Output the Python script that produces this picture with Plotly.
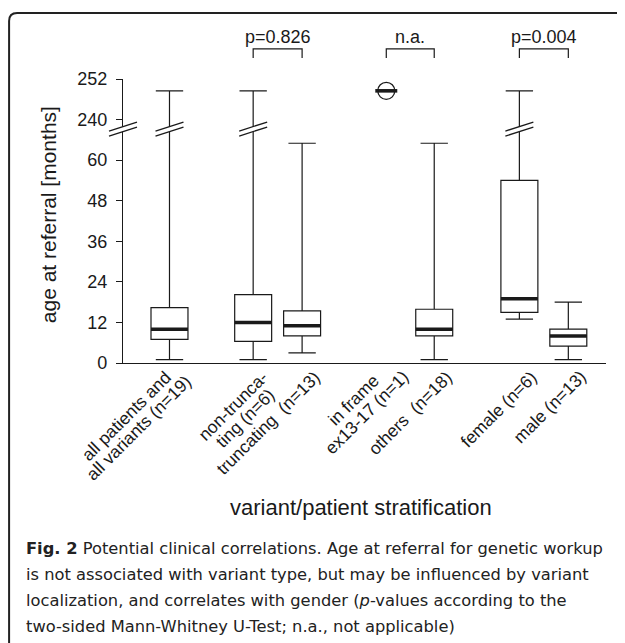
import math
import plotly.graph_objects as go

# ---------------- data ----------------
categories = [
    "all patients and<br>all variants (n=19)",
    "non-trunca-<br>ting (n=6)",
    "truncating\u00a0 (n=13)",
    "in frame<br>ex13-17 (n=1)",
    "others\u00a0 (n=18)",
    "female (n=6)",
    "male (n=13)",
]
lower_whisker = [1, 1, 3, 248.5, 1, 13, 1]
q1 = [7, 6.4, 8, 248.5, 8, 15, 5]
median = [10, 12, 11, 248.5, 10, 19, 8]
q3 = [16.4, 20.2, 15.4, 248.5, 15.9, 54, 10]
upper_whisker = [248.5, 248.5, 65, 248.5, 65, 248.5, 18]
group_n = [19, 6, 13, 1, 18, 6, 13]
comparisons = [(1, 2, "p=0.826"), (3, 4, "n.a."), (5, 6, "p=0.004")]
y_tick_values = [0, 12, 24, 36, 48, 60, 240, 252]

caption_lines = [
    "<b>Fig. 2</b> Potential clinical correlations. Age at referral for genetic workup",
    "is not associated with variant type, but may be influenced by variant",
    "localization, and correlates with gender (<i>p</i>-values according to the",
    "two-sided Mann-Whitney U-Test; n.a., not applicable)",
]

# ---------------- layout helpers ----------------
PAGE_W, PAGE_H = 625, 643
OX, OY = 8, 8                      # default body margin of the html page
W, H = PAGE_W - OX, PAGE_H - OY
positions = [1, 2.71, 3.71, 5.43, 6.41, 8.15, 9.15]
X_RANGE = [0.05, 9.92]
GAP_LO = 70
BREAK_SHIFT = 168  # 240 -> 72


def yt(v):
    """broken-axis transform (months -> axis units)"""
    return v if v <= GAP_LO else v - BREAK_SHIFT


# plot area in page pixels: x 123..606.4, y 79..362.7
L = 123 - OX
T = 79 - OY
R = W - (606.4 - OX)
B = H - (362.7 - OY)
PW = W - L - R
PH = H - T - B
Y_RANGE = [0, yt(252)]
xpx = PW / (X_RANGE[1] - X_RANGE[0])
ypx = PH / (Y_RANGE[1] - Y_RANGE[0])


def px_x(page_x):
    return (page_x - OX - L) / PW


def px_y(page_y):
    return (H - B - (page_y - OY)) / PH


def page_x_of(xval):
    return OX + L + (xval - X_RANGE[0]) * xpx


INK = "#1a1a1a"
FONT = "Liberation Sans, Arial, sans-serif"

fig = go.Figure()

box_w = 37 / xpx
for i, cat in enumerate(categories):
    if group_n[i] < 2:
        continue
    fig.add_trace(go.Box(
        x=[positions[i]], q1=[yt(q1[i])], median=[yt(median[i])], q3=[yt(q3[i])],
        lowerfence=[yt(lower_whisker[i])], upperfence=[yt(upper_whisker[i])],
        width=box_w, whiskerwidth=0.74, fillcolor="white",
        line=dict(color=INK, width=1.2), boxpoints=False, showlegend=False,
        hoverinfo="skip",
    ))

# thick medians
mx, my = [], []
for i in range(len(categories)):
    hw = (box_w / 2) if group_n[i] >= 2 else 11 / xpx
    mx += [positions[i] - hw, positions[i] + hw, None]
    my += [yt(median[i]), yt(median[i]), None]
fig.add_trace(go.Scatter(x=mx, y=my, mode="lines", line=dict(color=INK, width=3.6),
                         showlegend=False, hoverinfo="skip"))

# single-observation group: point drawn as open circle
single = [i for i in range(len(categories)) if group_n[i] < 2]
fig.add_trace(go.Scatter(
    x=[positions[i] for i in single], y=[yt(median[i]) for i in single], mode="markers",
    marker=dict(symbol="circle-open", size=17, color=INK, line=dict(width=1.3)),
    showlegend=False, hoverinfo="skip"))

shapes = []


def break_mark(xc, yc, xref, hw):
    hh = 4.5 / ypx
    sep = 5 / ypx
    shapes.append(dict(type="path", xref=xref, yref="y", layer="above",
                       path=f"M{xc-hw},{yc-hh+sep/2} L{xc+hw},{yc+hh+sep/2} L{xc+hw},{yc+hh-sep/2} L{xc-hw},{yc-hh-sep/2} Z",
                       fillcolor="white", line=dict(width=0)))
    for s in (sep / 2, -sep / 2):
        shapes.append(dict(type="line", xref=xref, yref="y", layer="above",
                           x0=xc - hw, y0=yc - hh + s, x1=xc + hw, y1=yc + hh + s,
                           line=dict(color=INK, width=1.3)))


y_break = 69.2
break_mark(0, y_break, "paper", 14 / PW)
for i in range(len(categories)):
    if group_n[i] >= 2 and upper_whisker[i] > GAP_LO:
        break_mark(positions[i], y_break, "x", 14 / xpx)

annotations = []

# comparison brackets
for a, b, label in comparisons:
    xa, xb = positions[a], positions[b]
    shapes.append(dict(type="path", xref="x", yref="paper",
                       path=f"M{xa},{px_y(58)} L{xa},{px_y(49)} L{xb},{px_y(49)} L{xb},{px_y(58)}",
                       line=dict(color=INK, width=1.2)))
    annotations.append(dict(x=(xa + xb) / 2, y=px_y(37), xref="x", yref="paper", text=label,
                            showarrow=False, font=dict(family=FONT, size=18, color=INK),
                            xanchor="center", yanchor="middle"))

# ---- rotated category labels: one annotation per line, tight line spacing ----
ARIAL_W = {c: 0.556 for c in "abdeghnopqu0123456789"}
ARIAL_W.update({"c": 0.5, "k": 0.5, "s": 0.5, "v": 0.5, "x": 0.5, "y": 0.5, "z": 0.5,
                "f": 0.278, "t": 0.278, " ": 0.278, "\u00a0": 0.278, "i": 0.222, "j": 0.222,
                "l": 0.222, "m": 0.833, "w": 0.722, "r": 0.333, "(": 0.333, ")": 0.333,
                "-": 0.333, "=": 0.584})
LAB_SIZE = 17.5
LINE_SP = 17.7
G = 0.45 * LAB_SIZE
C45 = math.cos(math.pi / 4)


def text_len(s):
    return sum(ARIAL_W.get(ch, 0.556) for ch in s) * LAB_SIZE


for i, cat in enumerate(categories):
    lines = cat.split("<br>")
    n = len(lines)
    m = (n - 1) / 2
    lens = [text_len(s) for s in lines]
    # bounding-box top-right of the rotated block
    bx = page_x_of(positions[i]) + (20 if n == 1 else 24)
    by = 368
    ext_x = max(C45 * (lens[k] / 2 + G) + (k - m) * LINE_SP * C45 for k in range(n))
    ext_y = min((k - m) * LINE_SP * C45 - C45 * (lens[k] / 2 + G) for k in range(n))
    cx = bx - ext_x
    cy = by - ext_y
    for k, s in enumerate(lines):
        lx = cx + (k - m) * LINE_SP * C45
        ly = cy + (k - m) * LINE_SP * C45
        annotations.append(dict(x=px_x(lx), y=px_y(ly), xref="paper", yref="paper", text=s,
                                textangle=-45, showarrow=False,
                                font=dict(family=FONT, size=LAB_SIZE, color=INK),
                                xanchor="center", yanchor="middle"))

annotations.append(dict(x=px_x(361), y=px_y(507), xref="paper", yref="paper",
                        text="variant/patient stratification", showarrow=False,
                        font=dict(family=FONT, size=22, color=INK), xanchor="center", yanchor="middle"))
annotations.append(dict(x=px_x(48), y=px_y(215), xref="paper", yref="paper",
                        text="age at referral [months]", textangle=-90, showarrow=False,
                        font=dict(family=FONT, size=21, color=INK), xanchor="center", yanchor="middle"))

for k, line in enumerate(caption_lines):
    annotations.append(dict(x=px_x(24), y=px_y(548 + 26 * k), xref="paper", yref="paper",
                            text=line, showarrow=False, align="left",
                            font=dict(family="DejaVu Sans, sans-serif", size=16.3, color="#222"),
                            xanchor="left", yanchor="middle"))

# outer rounded frame (open at right and bottom)
shapes.append(dict(type="path", xref="paper", yref="paper",
                   path=f"M{px_x(9)},{px_y(660)} L{px_x(9)},{px_y(21)} Q{px_x(9)},{px_y(13)} {px_x(17)},{px_y(13)} L{px_x(660)},{px_y(13)}",
                   line=dict(color="#222", width=2)))

fig.update_layout(
    width=W, height=H, margin=dict(l=L, r=R, t=T, b=B, pad=0),
    plot_bgcolor="white", paper_bgcolor="white",
    shapes=shapes, annotations=annotations,
    xaxis=dict(range=X_RANGE, showgrid=False, zeroline=False, showticklabels=False,
               ticks="", showline=True, linecolor=INK, linewidth=1.2, fixedrange=True,
               automargin=False),
    yaxis=dict(range=Y_RANGE, showgrid=False, zeroline=False, showline=True,
               linecolor=INK, linewidth=1.2, ticks="outside", ticklen=6, tickwidth=1.2,
               tickcolor=INK, tickvals=[yt(v) for v in y_tick_values],
               ticktext=[str(v) for v in y_tick_values], automargin=False,
               ticklabelstandoff=5,
               tickfont=dict(family=FONT, size=18, color=INK), fixedrange=True),
)

fig.write_html("out.html")
